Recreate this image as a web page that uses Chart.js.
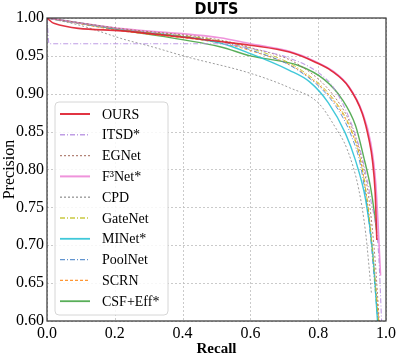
<!DOCTYPE html>
<html>
<head>
<meta charset="utf-8">
<script src="https://cdn.jsdelivr.net/npm/chart.js@4.4.1/dist/chart.umd.min.js"></script>
<style>
  html, body { margin: 0; padding: 0; background: #fff; }
  #wrap { width: 399px; height: 358px; position: relative; }
</style>
</head>
<body>
<div id="wrap"><canvas id="canvasWykresu"></canvas></div>
<script>
// krzywe P-R: [recall, precision]
const ours = [[0,1],[0.02,0.993],[0.22,0.983],[0.51,0.969],[0.6,0.964],[0.715,0.955],[0.79,0.942],[0.84,0.93],[0.89,0.909],[0.93,0.874],[0.95,0.839],[0.96,0.812],[0.968,0.77],[0.973,0.707]];
const itsd = [[0,1],[0.006,0.966],[0.5,0.966],[0.6,0.96],[0.715,0.947],[0.8,0.928],[0.85,0.905],[0.9,0.858],[0.93,0.815],[0.955,0.76],[0.978,0.69],[0.987,0.6]];
const egnet = [[0,1],[0.22,0.986],[0.51,0.971],[0.6,0.961],[0.744,0.938],[0.85,0.895],[0.9,0.855],[0.93,0.81],[0.95,0.76],[0.968,0.68],[0.98,0.6]];
const f3net = [[0,1],[0.22,0.986],[0.51,0.974],[0.6,0.966],[0.715,0.956],[0.79,0.943],[0.85,0.928],[0.89,0.91],[0.93,0.876],[0.955,0.835],[0.97,0.78],[0.984,0.66]];
const cpd = [[0,1],[0.1,0.99],[0.226,0.972],[0.31,0.962],[0.41,0.949],[0.6,0.927],[0.715,0.908],[0.8,0.888],[0.85,0.856],[0.886,0.826],[0.92,0.773],[0.94,0.716],[0.957,0.637]];
const gatenet = [[0,1],[0.22,0.985],[0.51,0.97],[0.6,0.96],[0.744,0.933],[0.85,0.89],[0.9,0.85],[0.925,0.812],[0.95,0.74],[0.978,0.6]];
const minet = [[0,1],[0.22,0.985],[0.51,0.967],[0.6,0.953],[0.715,0.931],[0.774,0.916],[0.83,0.888],[0.88,0.848],[0.91,0.812],[0.94,0.76],[0.96,0.694],[0.975,0.6]];
const poolnet = [[0,1],[0.22,0.984],[0.51,0.969],[0.6,0.958],[0.744,0.93],[0.85,0.885],[0.9,0.842],[0.925,0.805],[0.95,0.73],[0.976,0.6]];
const scrn = [[0,1],[0.22,0.983],[0.51,0.967],[0.6,0.957],[0.744,0.931],[0.85,0.888],[0.9,0.848],[0.925,0.812],[0.95,0.738],[0.979,0.6]];
const csfEff = [[0,1],[0.1,0.993],[0.22,0.984],[0.51,0.962],[0.6,0.95],[0.744,0.937],[0.82,0.918],[0.87,0.893],[0.91,0.858],[0.935,0.815],[0.955,0.775],[0.965,0.745],[0.972,0.72]];

const metody = ['OURS', 'ITSD*', 'EGNet', 'F\u00B3Net*', 'CPD', 'GateNet', 'MINet*', 'PoolNet', 'SCRN', 'CSF+Eff*'];
const xTicks = [0, 0.2, 0.4, 0.6, 0.8, 1.0];
const yTicks = [0.60, 0.65, 0.70, 0.75, 0.80, 0.85, 0.90, 0.95, 1.00];

const serif = "'Liberation Serif', 'Times New Roman', serif";

const style = [
    { color: 'rgba(222,30,45,0.9)', width: 1.6, dash: [] },
    { color: 'rgba(180,140,225,0.85)', width: 1.1, dash: [5, 2, 1, 2] },
    { color: 'rgba(160,100,85,0.8)', width: 1, dash: [2, 2] },
    { color: 'rgba(235,120,210,0.8)', width: 1.6, dash: [] },
    { color: 'rgba(140,140,140,0.85)', width: 1, dash: [2, 2] },
    { color: 'rgba(190,190,30,0.85)', width: 1, dash: [5, 2, 1, 2] },
    { color: 'rgba(30,190,210,0.85)', width: 1.4, dash: [] },
    { color: 'rgba(70,130,200,0.85)', width: 1, dash: [5, 2, 1, 2] },
    { color: 'rgba(255,140,30,0.9)', width: 1, dash: [3, 2] },
    { color: 'rgba(60,160,60,0.85)', width: 1.4, dash: [] }
];
const serie = [ours, itsd, egnet, f3net, cpd, gatenet, minet, poolnet, scrn, csfEff];

const datasets = serie.map((d, i) => ({
    label: metody[i],
    data: d,
    borderColor: style[i].color,
    borderWidth: style[i].width,
    borderDash: style[i].dash,
    pointRadius: 0,
    fill: false,
    cubicInterpolationMode: 'monotone'
}));

// przerywana siatka pod krzywymi
const siatka = {
    id: 'siatka',
    beforeDatasetsDraw(chart) {
        const ctx = chart.ctx;
        const a = chart.chartArea;
        const sx = chart.scales.x, sy = chart.scales.y;
        ctx.save();
        ctx.strokeStyle = '#bdbdbd';
        ctx.lineWidth = 0.8;
        ctx.setLineDash([2, 2]);
        xTicks.forEach(v => {
            const px = Math.round(sx.getPixelForValue(v)) + 0.5;
            ctx.beginPath(); ctx.moveTo(px, a.top); ctx.lineTo(px, a.bottom); ctx.stroke();
        });
        yTicks.forEach(v => {
            const py = Math.round(sy.getPixelForValue(v)) + 0.5;
            ctx.beginPath(); ctx.moveTo(a.left, py); ctx.lineTo(a.right, py); ctx.stroke();
        });
        ctx.restore();
    }
};

// tytul, ramka i legenda wewnatrz wykresu
const rysujDodatki = {
    id: 'rysujDodatki',
    afterDraw(chart) {
        const ctx = chart.ctx;
        const a = chart.chartArea;
        ctx.save();
        ctx.strokeStyle = '#333';
        ctx.lineWidth = 1.2;
        ctx.setLineDash([]);
        ctx.strokeRect(a.left, a.top, a.right - a.left, a.bottom - a.top);

        ctx.fillStyle = '#000';
        ctx.font = "bold 16px 'Liberation Sans Narrow', 'Arial Narrow', 'DejaVu Sans Condensed', sans-serif";
        ctx.textAlign = 'center';
        ctx.textBaseline = 'middle';
        ctx.fillText('DUTS', (a.left + a.right) / 2, 10);

        // legenda
        const lx = 55, ly = 102, lw = 113, lh = 213;
        ctx.beginPath();
        ctx.roundRect(lx, ly, lw, lh, 4);
        ctx.fillStyle = 'rgba(255,255,255,0.85)';
        ctx.fill();
        ctx.strokeStyle = '#d6d6d6';
        ctx.lineWidth = 1;
        ctx.stroke();

        ctx.font = '14px ' + serif;
        ctx.textAlign = 'left';
        chart.data.datasets.forEach((ds, i) => {
            const y = 114 + i * 20.8;
            ctx.strokeStyle = ds.borderColor;
            ctx.lineWidth = ds.borderWidth + 0.4;
            ctx.setLineDash(ds.borderDash);
            ctx.beginPath();
            ctx.moveTo(60, y);
            ctx.lineTo(90, y);
            ctx.stroke();
            ctx.fillStyle = '#000';
            ctx.fillText(ds.label, 102, y + 1);
        });
        ctx.restore();
    }
};

const ctx = document.getElementById('canvasWykresu').getContext('2d');
new Chart(ctx, {
    type: 'line',
    data: { datasets: datasets },
    options: {
        responsive: true,
        maintainAspectRatio: false,
        animation: false,
        layout: { padding: { top: 18, right: 12, left: 0, bottom: 0 } },
        plugins: { legend: { display: false }, title: { display: false }, tooltip: { enabled: false } },
        scales: {
            x: {
                type: 'linear',
                min: 0, max: 1,
                afterBuildTicks: s => { s.ticks = xTicks.map(v => ({ value: v })); },
                afterFit: s => { s.height = 37; },
                ticks: { callback: v => v.toFixed(1), font: { family: serif, size: 16 }, color: '#000', padding: 3, maxRotation: 0 },
                grid: { display: false, drawTicks: false },
                border: { display: false },
                title: { display: true, text: 'Recall', font: { family: serif, size: 15, weight: 'bold' }, color: '#000', padding: 0 }
            },
            y: {
                type: 'linear',
                min: 0.6, max: 1.0,
                afterBuildTicks: s => { s.ticks = yTicks.map(v => ({ value: v })); },
                afterFit: s => { s.width = 47; },
                ticks: { callback: v => v.toFixed(2), font: { family: serif, size: 16 }, color: '#000', padding: 3 },
                grid: { display: false, drawTicks: false },
                border: { display: false },
                title: { display: true, text: 'Precision', font: { family: serif, size: 16 }, color: '#000', padding: 0 }
            }
        }
    },
    plugins: [siatka, rysujDodatki]
});
</script>
</body>
</html>
